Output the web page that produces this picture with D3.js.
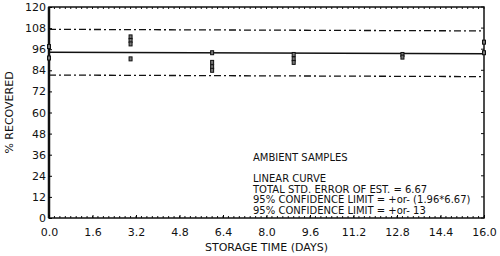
<!DOCTYPE html>
<html>
<head>
<meta charset="utf-8">
<script src="https://cdn.jsdelivr.net/npm/d3@7"></script>
<style>
  body { margin: 0; background: #fff; }
  text { font-family: "DejaVu Sans", Verdana, sans-serif; fill: #111; }
</style>
</head>
<body>
<div id="chart"></div>
<script>
// Data
const xTicks = [0.0, 1.6, 3.2, 4.8, 6.4, 8.0, 9.6, 11.2, 12.8, 14.4, 16.0];
const yTicks = [0, 12, 24, 36, 48, 60, 72, 84, 96, 108, 120];
const sampleDays = [0, 0, 3, 3, 3, 3, 6, 6, 6, 6, 9, 9, 9, 13, 13, 16, 16];
const sampleRecovery = [97.5, 91, 103, 101, 99, 90.5, 94, 88.5, 86, 84, 93, 90.5, 88.5, 93, 91.5, 100, 94];
const fitDays = [0, 16];
const fitValues = [94.3, 93.4];
const confLimit = 13;
const notes = [
  "AMBIENT SAMPLES",
  "",
  "LINEAR CURVE",
  "TOTAL STD. ERROR OF EST. = 6.67",
  "95% CONFIDENCE LIMIT = +or- (1.96*6.67)",
  "95% CONFIDENCE LIMIT = +or- 13"
];

const W = 500, H = 256;
const margin = { top: 7, right: 16, bottom: 38, left: 49 };
const width = W - margin.left - margin.right;
const height = H - margin.top - margin.bottom;

const svg = d3.select("#chart").append("svg")
  .attr("width", W)
  .attr("height", H);

const g = svg.append("g")
  .attr("transform", `translate(${margin.left},${margin.top})`);

const x = d3.scaleLinear().domain([0, 16]).range([0, width]);
const y = d3.scaleLinear().domain([0, 120]).range([height, 0]);

// frame
g.append("rect")
  .attr("width", width)
  .attr("height", height)
  .attr("fill", "none")
  .attr("stroke", "#111")
  .attr("stroke-width", 1.5);

// left axis is heavier
g.append("line")
  .attr("x1", 0).attr("x2", 0)
  .attr("y1", 0).attr("y2", height)
  .attr("stroke", "#111")
  .attr("stroke-width", 2.5);

// x axis
const xAxis = g.append("g")
  .attr("transform", `translate(0,${height})`)
  .call(d3.axisBottom(x).tickValues(xTicks).tickFormat(d3.format(".1f")).tickSize(-3).tickPadding(10));
xAxis.select(".domain").remove();
xAxis.selectAll("text").style("font-size", "11px");

// y axis
const yAxis = g.append("g")
  .call(d3.axisLeft(y).tickValues(yTicks).tickSize(-3).tickPadding(3));
yAxis.select(".domain").remove();
yAxis.selectAll("text").style("font-size", "11px");

// minor ticks on bottom and top edges
const minor = d3.range(0, 16.001, 0.2);
g.selectAll(".minor-b").data(minor).enter().append("line")
  .attr("x1", d => x(d)).attr("x2", d => x(d))
  .attr("y1", height).attr("y2", height - 2)
  .attr("stroke", "#111").attr("stroke-width", 1);
g.selectAll(".minor-t").data(minor).enter().append("line")
  .attr("x1", d => x(d)).attr("x2", d => x(d))
  .attr("y1", 0).attr("y2", 2)
  .attr("stroke", "#111").attr("stroke-width", 1);

// right edge ticks
g.selectAll(".minor-r").data(yTicks).enter().append("line")
  .attr("x1", width).attr("x2", width - 3)
  .attr("y1", d => y(d)).attr("y2", d => y(d))
  .attr("stroke", "#111");

// regression and confidence lines
const fit = fitDays.map((d, i) => ({ day: d, v: fitValues[i] }));
const line = d3.line().x(d => x(d.day)).y(d => y(d.v));

g.append("path")
  .datum(fit)
  .attr("d", line)
  .attr("fill", "none")
  .attr("stroke", "#111")
  .attr("stroke-width", 1.5);

[confLimit, -confLimit].forEach(off => {
  g.append("path")
    .datum(fit.map(d => ({ day: d.day, v: d.v + off })))
    .attr("d", line)
    .attr("fill", "none")
    .attr("stroke", "#111")
    .attr("stroke-width", 1.3)
    .attr("stroke-dasharray", "7,3,2,3");
});

// sample markers
const samples = sampleDays.map((d, i) => ({ day: d, v: sampleRecovery[i] }));
g.selectAll(".pt").data(samples).enter().append("rect")
  .attr("class", "pt")
  .attr("x", d => x(d.day) - 1.5)
  .attr("y", d => y(d.v) - 2)
  .attr("width", 3)
  .attr("height", 4)
  .attr("fill", "#777")
  .attr("stroke", "#111")
  .attr("stroke-width", 1);

// notes block
g.selectAll(".note").data(notes).enter().append("text")
  .attr("x", 204)
  .attr("y", (d, i) => 154 + i * 10.6)
  .style("font-size", "10px")
  .text(d => d);

// axis labels
svg.append("text")
  .attr("x", margin.left + width / 2)
  .attr("y", 251)
  .attr("text-anchor", "middle")
  .style("font-size", "11px")
  .text("STORAGE TIME (DAYS)");

svg.append("text")
  .attr("transform", `translate(13,${margin.top + height / 2}) rotate(-90)`)
  .attr("text-anchor", "middle")
  .style("font-size", "11px")
  .text("% RECOVERED");
</script>
</body>
</html>
